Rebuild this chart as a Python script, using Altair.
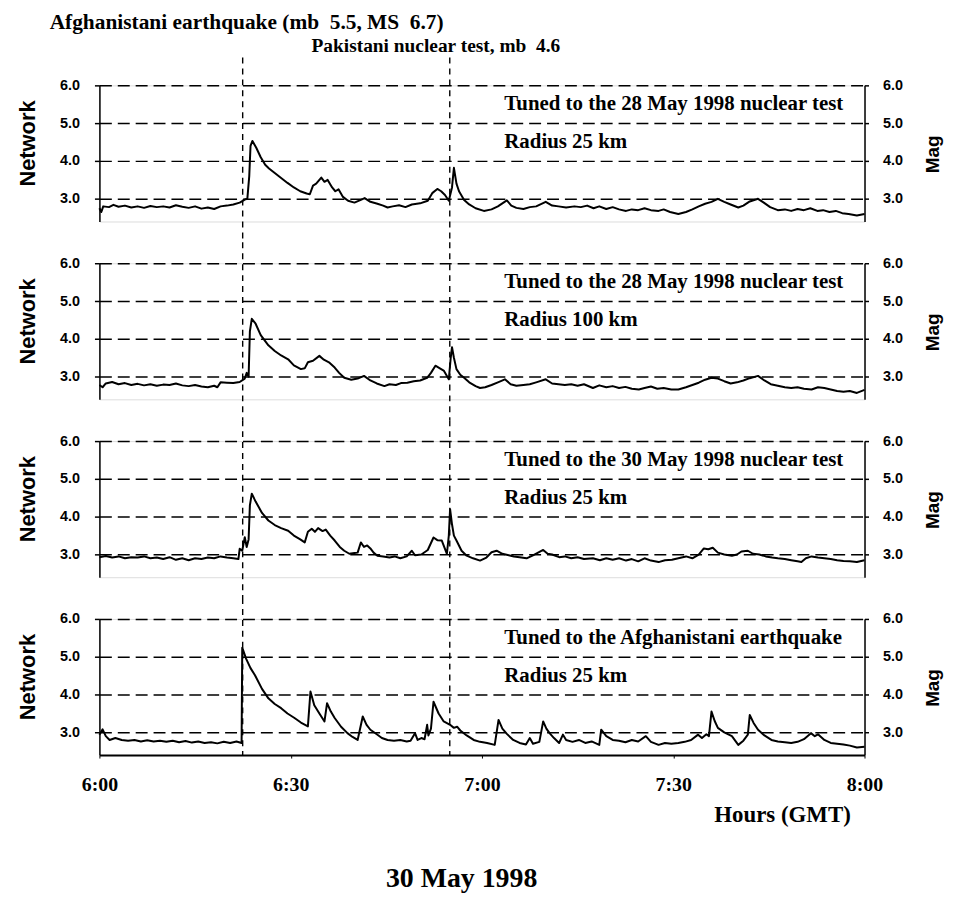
import altair as alt
import pandas as pd

# ---------------- data (minutes after 6:00 GMT, magnitude) ----------------
P1_T = [0, 0.3, 0.6, 1.5, 2.2, 3, 4, 5, 6, 7, 8, 9, 10, 11, 12, 13, 14, 15, 16, 17, 18, 19, 20, 21, 22, 22.8, 23.2, 23.5, 23.7, 24.0,
        24.6, 25.3, 26, 26.6, 27.5, 28.5, 29.5, 30.5, 31.5, 32.5, 33, 33.5, 34, 34.8, 35.3, 35.8, 36.5, 37, 37.5, 38.2, 39, 40, 41, 41.6,
        42.5, 43.6, 44.5, 45.2, 46, 47, 48, 49, 50.3, 51.5, 52.2, 53, 53.6, 54.2, 54.8, 55.3, 55.6, 56, 56.4, 57.2, 58, 59, 60.3, 61.5,
        62.5, 63.9, 64.6, 65.4, 66.5, 67.5, 68.5, 70, 71, 72, 73.2, 74.5, 75.5, 76.5, 77.5, 78.4, 79.5, 80.5, 81.5, 82.6, 83.5, 84.5,
        85.5, 86.5, 87.7, 88.5, 89.5, 90.8, 92, 93, 94, 95, 96, 97, 98, 99, 100.2, 101, 102, 103.3, 104.2, 105.2, 106.4, 107.5, 108.5,
        109.5, 110.5, 111.5, 112.6, 113.5, 114.5, 115.5, 116.5, 117.5, 118.8, 120]
P1_V = [2.75, 2.65, 2.8, 2.78, 2.84, 2.79, 2.82, 2.77, 2.8, 2.76, 2.81, 2.78, 2.8, 2.77, 2.83, 2.79, 2.76, 2.8, 2.74, 2.77, 2.73, 2.8, 2.82, 2.85, 2.9, 2.98, 3.0, 3.6, 4.4, 4.53,
        4.35, 4.1, 3.9, 3.8, 3.68, 3.55, 3.42, 3.3, 3.2, 3.14, 3.12, 3.35, 3.4, 3.56, 3.45, 3.5, 3.3, 3.2, 3.25, 3.05, 2.95, 2.9, 2.97, 3.02,
        2.92, 2.87, 2.82, 2.77, 2.8, 2.83, 2.78, 2.85, 2.88, 2.95, 3.15, 3.26, 3.2, 3.1, 2.95, 3.3, 3.82, 3.4, 3.2, 2.97, 2.85, 2.75, 2.68, 2.72,
        2.8, 2.96, 2.82, 2.76, 2.73, 2.78, 2.8, 2.92, 2.82, 2.8, 2.77, 2.8, 2.78, 2.82, 2.75, 2.8, 2.73, 2.78, 2.72, 2.68, 2.72, 2.7,
        2.75, 2.7, 2.68, 2.72, 2.65, 2.6, 2.65, 2.72, 2.8, 2.87, 2.92, 3.0, 2.92, 2.85, 2.77, 2.82, 2.93, 3.0, 2.9, 2.78, 2.7, 2.72, 2.68,
        2.73, 2.7, 2.75, 2.68, 2.7, 2.65, 2.68, 2.62, 2.6, 2.56, 2.6]

P2_T = [0, 0.5, 1, 2, 3, 4, 5, 6, 7, 8, 9, 10, 11, 12, 13, 14, 15, 16, 17, 18, 18.5, 19, 20, 21, 22, 22.8, 23.1, 23.4, 23.6, 23.9,
        24.5, 25.3, 26.5, 27.5, 28.5, 29.6, 30.5, 31.6, 32.2, 32.7, 33.5, 34.5, 35.2, 36, 36.9, 37.6, 38.4, 39.5, 40.5, 41.5, 42.5, 43.5,
        44.7, 45.5, 46.5, 47.3, 48.3, 49.3, 50.3, 51.4, 52, 52.7, 53.4, 54, 54.8, 55.1, 55.3, 55.6, 56, 56.6, 57.2, 58, 59, 59.7, 60.5,
        61.5, 62.5, 63.6, 64.5, 65.4, 66.5, 67.5, 68.5, 70, 71, 72, 73, 74, 75, 76, 77.4, 78.4, 79.5, 80.5, 81.5, 82.5, 83.5, 84.6, 85.5,
        86.5, 87.5, 88.5, 89.7, 90.8, 92, 93, 94, 95, 96, 97, 98, 99, 100, 101, 102, 103.3, 104.3, 105.3, 106.4, 107.5, 108.5, 109.5,
        110.5, 111.7, 112.7, 113.7, 114.7, 115.7, 116.7, 117.7, 118.8, 120]
P2_V = [2.78, 2.72, 2.82, 2.86, 2.8, 2.83, 2.78, 2.81, 2.77, 2.8, 2.76, 2.79, 2.78, 2.82, 2.77, 2.75, 2.78, 2.74, 2.72, 2.76, 2.72, 2.85, 2.84, 2.83, 2.86, 2.95, 3.1, 3.0, 4.2, 4.53,
        4.4, 4.1, 3.83, 3.68, 3.56, 3.46, 3.3, 3.2, 3.22, 3.38, 3.42, 3.55, 3.45, 3.38, 3.24, 3.1, 2.97, 2.92, 2.95, 3.02, 2.9, 2.82,
        2.75, 2.8, 2.78, 2.83, 2.84, 2.88, 2.9, 2.97, 3.1, 3.29, 3.22, 3.16, 2.93, 3.5, 3.78, 3.5, 3.2, 3.05, 2.97, 2.85, 2.75, 2.7, 2.72,
        2.78, 2.85, 2.93, 2.8, 2.76, 2.78, 2.8, 2.85, 2.93, 2.82, 2.8, 2.78, 2.8, 2.76, 2.8, 2.7, 2.77, 2.72, 2.75, 2.7, 2.73, 2.68, 2.66, 2.7,
        2.74, 2.68, 2.7, 2.66, 2.66, 2.72, 2.78, 2.84, 2.92, 2.97, 2.95, 2.88, 2.82, 2.85, 2.9, 2.96, 3.02, 2.9, 2.8, 2.76, 2.72, 2.7, 2.72,
        2.68, 2.66, 2.72, 2.7, 2.66, 2.62, 2.6, 2.62, 2.57, 2.65]

P3_T = [0, 1, 2, 3, 4, 5, 6, 7, 8, 9, 10, 11, 12, 13, 14, 15, 16, 17, 18, 19, 20, 21, 21.8, 22, 22.4, 22.8, 23.1, 23.4, 23.6, 23.9,
        24.5, 25.5, 26.5, 27.5, 28.5, 29.6, 30.5, 31.5, 32.2, 32.7, 33.3, 33.8, 34.3, 35, 35.5, 36.2, 36.9, 37.7, 38.4, 39.2, 40, 40.5,
        41, 41.5, 42, 42.5, 43, 43.6, 44.5, 45.5, 46.3, 47.2, 48.2, 49, 49.5, 50.5, 51.5, 52.4, 53, 53.7, 54.5, 54.8, 55, 55.3, 55.6, 56,
        56.8, 57.6, 58.6, 59.7, 60.7, 61.5, 62.3, 63.2, 64.2, 65, 65.9, 67, 68, 69.6, 70.3, 71, 72.1, 73, 74, 75, 76, 77.4, 78.5, 79.5,
        80.5, 81.5, 82.6, 83.5, 84.5, 85.5, 86.5, 87.7, 88.7, 89.8, 90.8, 92, 93, 94, 94.8, 95.5, 96.2, 97, 98, 99.2, 100, 100.7, 101.7,
        102.5, 103.5, 104.5, 105.5, 106.4, 107.5, 108.5, 109.5, 110.1, 110.8, 111.7, 112.7, 113.7, 114.7, 115.7, 116.7, 117.7, 118.8, 120]
P3_V = [2.93, 2.96, 2.92, 2.95, 2.9, 2.93, 2.92, 2.95, 2.9, 2.92, 2.88, 2.93, 2.86, 2.9, 2.85, 2.9, 2.88, 2.92, 2.9, 2.95, 2.92, 2.9, 2.88, 3.15, 3.1, 3.46, 3.2, 3.4, 4.3, 4.61,
        4.4, 4.1, 3.9, 3.78, 3.7, 3.63, 3.5, 3.4, 3.32, 3.6, 3.68, 3.6, 3.7, 3.62, 3.66, 3.5, 3.37, 3.2, 3.1, 3.02, 3.04, 3.05,
        3.32, 3.2, 3.24, 3.16, 3.05, 2.97, 2.95, 2.92, 2.95, 2.9, 2.95, 3.1, 2.98, 3.0, 3.12, 3.45, 3.38, 3.37, 3.02, 3.5, 4.2, 3.8, 3.5, 3.37,
        3.1, 2.97, 2.9, 2.84, 2.92, 3.06, 3.1, 3.02, 2.98, 2.95, 2.93, 2.9, 2.98, 3.12, 3.02, 3.0, 2.93, 2.95, 2.9, 2.93, 2.88, 2.9, 2.85, 2.9,
        2.86, 2.9, 2.84, 2.88, 2.82, 2.9, 2.84, 2.8, 2.85, 2.86, 2.9, 2.95, 2.9, 3.0, 3.16, 3.14, 3.18, 3.05, 3.0, 2.97, 3.0, 3.08, 3.1,
        3.02, 3.0, 2.95, 2.92, 2.9, 2.88, 2.85, 2.82, 2.8, 2.9, 2.95, 2.92, 2.9, 2.88, 2.85, 2.83, 2.82, 2.8, 2.85]

P4_T = [0, 0.5, 1.0, 1.6, 2.5, 3.5, 4.5, 5.5, 6.5, 7.5, 8.5, 9.5, 10.5, 11.5, 12.5, 13.5, 14.5, 15.5, 16.5, 17.5, 18.5, 19.5, 20.5, 21.5,
        22.3, 22.4, 23, 23.7, 24.4, 25.5, 26.5, 27.5, 28.5, 29.5, 30.6, 31.6, 32.7, 33.1, 33.7, 34.5, 35.3, 35.7, 36.3, 36.9, 37.9, 38.9,
        39.7, 40.5, 41.3, 41.9, 42.5, 43.5, 44.3, 45.2, 46.2, 47.2, 48.2, 48.8, 49.5, 49.9, 50.5, 51.0, 51.4, 51.6, 52.0, 52.4, 53.2, 54,
        55, 55.6, 56.1, 56.6, 57.6, 58.7, 59.7, 60.8, 62, 62.6, 63.2, 63.9, 64.9, 65.9, 66.9, 67.5, 68, 69, 69.6, 70.1, 70.6, 71.3, 72.1,
        72.7, 73.2, 74.2, 75.2, 76.2, 77.2, 78.4, 78.7, 79.5, 80.5, 81.5, 82.5, 83.5, 84.5, 85.7, 86.5, 87.7, 88.7, 89.7, 90.8, 91.8, 92.8,
        93.9, 94.5, 95.2, 95.6, 96, 96.5, 97, 98, 99.2, 100.2, 101, 101.7, 102, 102.6, 103.3, 104.3, 105.4, 106.4, 107.5, 108.5, 109.5,
        110.5, 111.6, 112.2, 112.7, 113.7, 114.7, 115.7, 116.7, 117.7, 118.8, 120]
P4_V = [2.94, 3.08, 2.9, 2.8, 2.85, 2.8, 2.78, 2.8, 2.76, 2.79, 2.76, 2.78, 2.75, 2.78, 2.74, 2.77, 2.73, 2.76, 2.72, 2.74, 2.71, 2.75, 2.72, 2.76,
        2.72, 5.24, 4.95, 4.7, 4.51, 4.15, 3.9, 3.75, 3.64, 3.5, 3.38, 3.26, 3.16, 4.08, 3.72, 3.5, 3.29, 3.77, 3.55, 3.38, 3.15, 2.98,
        2.88, 2.8, 3.42, 3.2, 3.07, 2.95, 2.85, 2.8, 2.78, 2.8, 2.76, 2.78, 2.98, 2.8, 2.85, 2.82, 3.2, 2.92, 3.1, 3.81, 3.5, 3.29,
        3.2, 3.12, 3.15, 3.05, 2.92, 2.8, 2.75, 2.72, 2.67, 3.33, 3.1, 2.96, 2.8, 2.72, 2.68, 2.85, 2.7, 2.75, 3.29, 3.1, 2.98, 2.85, 2.72,
        2.94, 2.8, 2.75, 2.8, 2.72, 2.76, 2.67, 3.07, 2.9, 2.8, 2.78, 2.74, 2.8, 2.76, 2.9, 2.75, 2.67, 2.72, 2.7, 2.72, 2.75, 2.8,
        2.94, 2.85, 2.95, 2.9, 3.55, 3.3, 3.12, 3.0, 2.9, 2.67, 2.78, 2.94, 3.46, 3.25, 3.07, 2.92, 2.8, 2.76, 2.74, 2.72, 2.75,
        2.82, 2.98, 2.9, 2.95, 2.8, 2.72, 2.7, 2.68, 2.65, 2.6, 2.62]

PANEL_T = [P1_T, P2_T, P3_T, P4_T]
PANEL_V = [P1_V, P2_V, P3_V, P4_V]
PANEL_TUNED = ["Tuned to the 28 May 1998 nuclear test",
               "Tuned to the 28 May 1998 nuclear test",
               "Tuned to the 30 May 1998 nuclear test",
               "Tuned to the Afghanistani earthquake"]
PANEL_RADIUS = ["Radius 25 km", "Radius 100 km", "Radius 25 km", "Radius 25 km"]
NOTE_T = 63.5          # minute where panel notes start
NOTE_V = [5.5, 4.5]    # magnitude levels of the two note lines

EVENT_T = [22.47, 54.95]   # 06:22:28 earthquake, 06:54:57 nuclear test
EVENT_LABELS = ["Afghanistani earthquake (mb\u00a0 5.5, MS\u00a0 6.7)",
                "Pakistani nuclear test, mb\u00a0 4.6"]

X_TICK_MIN = [0, 30, 60, 90, 120]
X_TICK_LABELS = ["6:00", "6:30", "7:00", "7:30", "8:00"]
Y_TICKS = [3.0, 4.0, 5.0, 6.0]
Y_DOMAIN = [2.4, 6.0]

# ---------------- styles ----------------
W, H = 770, 137
SERIF = "Liberation Serif"
SANS = "Liberation Sans"

x_label_expr = ""
for m, lab in zip(X_TICK_MIN, X_TICK_LABELS):
    x_label_expr += f"datum.value == {m} ? '{lab}' : "
x_label_expr += "''"

yscale = alt.Scale(domain=Y_DOMAIN, nice=False, zero=False)
xscale = alt.Scale(domain=[0, 120], nice=False, zero=False)

left_axis = alt.Axis(values=Y_TICKS, format=".1f", orient="left", title="Network",
                     grid=True, gridDash=[12, 6], gridColor="black", gridWidth=1.5, gridOpacity=1,
                     domainColor="black", domainWidth=1.5, tickColor="black", tickWidth=1.5, tickSize=5,
                     labelFont=SANS, labelFontWeight="bold", labelFontSize=14.5, labelColor="black",
                     labelPadding=15,
                     titleFont=SANS, titleFontWeight="bold", titleFontSize=22, titleColor="black",
                     titleAngle=-90, titleX=-72, titleY=58, titleAlign="center", titleBaseline="middle")

right_axis = alt.Axis(values=Y_TICKS, format=".1f", orient="right", title="Mag", grid=False,
                      domainColor="black", domainWidth=1.5, tickColor="black", tickWidth=1.5, tickSize=4,
                      labelFont=SANS, labelFontWeight="bold", labelFontSize=14.5, labelColor="black",
                      labelPadding=14,
                      titleFont=SANS, titleFontWeight="bold", titleFontSize=19, titleColor="black",
                      titleAngle=-90, titleX=68, titleY=69, titleAlign="center", titleBaseline="middle")

bottom_axis = alt.Axis(values=X_TICK_MIN, labelExpr=x_label_expr, title="Hours (GMT)",
                       grid=False, domainColor="black", domainWidth=2, tickColor="black", tickSize=3,
                       labelFont=SERIF, labelFontWeight="bold", labelFontSize=20, labelColor="black",
                       labelPadding=17, labelFlush=False,
                       titleFont=SERIF, titleFontWeight="bold", titleFontSize=23, titleColor="black",
                       titleX=687, titleY=60, titleAlign="center", titleBaseline="middle")


def panel(i):
    first = i == 0
    last = i == len(PANEL_T) - 1
    xenc = alt.X("t:Q", scale=xscale, axis=bottom_axis if last else None)

    df = pd.DataFrame({"t": PANEL_T[i], "v": PANEL_V[i]})
    line = alt.Chart(df).mark_line(color="black", strokeWidth=2, strokeJoin="round").encode(
        x=xenc, y=alt.Y("v:Q", scale=yscale, axis=left_axis))

    ev = alt.Chart(pd.DataFrame({"t": EVENT_T})).mark_rule(
        color="black", strokeWidth=1.4, strokeDash=[6, 5]).encode(
        x=xenc,
        y=alt.value(-28 if first else -21),
        y2=alt.value(H if last else H + 21))

    notes = pd.DataFrame({"t": [NOTE_T, NOTE_T], "v": NOTE_V,
                          "label": [PANEL_TUNED[i], PANEL_RADIUS[i]]})
    txt = alt.Chart(notes).mark_text(
        align="left", baseline="middle", font=SERIF, fontWeight="bold", fontSize=21, color="black").encode(
        x=xenc, y=alt.Y("v:Q", scale=yscale, axis=right_axis), text="label:N")

    layers = [line, ev, txt]
    if first:
        t1 = alt.Chart(pd.DataFrame({"t": [EVENT_T[0]], "label": [EVENT_LABELS[0]]})).mark_text(
            align="center", baseline="middle", font=SERIF, fontWeight="bold", fontSize=21.5,
            color="black", dx=4).encode(x=xenc, y=alt.value(-63), text="label:N")
        t2 = alt.Chart(pd.DataFrame({"t": [EVENT_T[1]], "label": [EVENT_LABELS[1]]})).mark_text(
            align="center", baseline="middle", font=SERIF, fontWeight="bold", fontSize=19.5,
            color="black", dx=-14).encode(x=xenc, y=alt.value(-40), text="label:N")
        layers += [t1, t2]

    return alt.layer(*layers).resolve_axis(y="independent").properties(width=W, height=H)


chart = alt.vconcat(*[panel(i) for i in range(4)], spacing=42, bounds="flush").properties(
    title=alt.TitleParams("30 May 1998", orient="bottom", anchor="middle", font=SERIF,
                          fontWeight="bold", fontSize=28, color="black", offset=38, dx=-18),
    padding={"left": 8, "top": 0, "right": 2, "bottom": 5},
).configure_view(stroke=None).configure(background="white")

chart.save("out.html", embed_options={"renderer": "svg", "actions": False})
